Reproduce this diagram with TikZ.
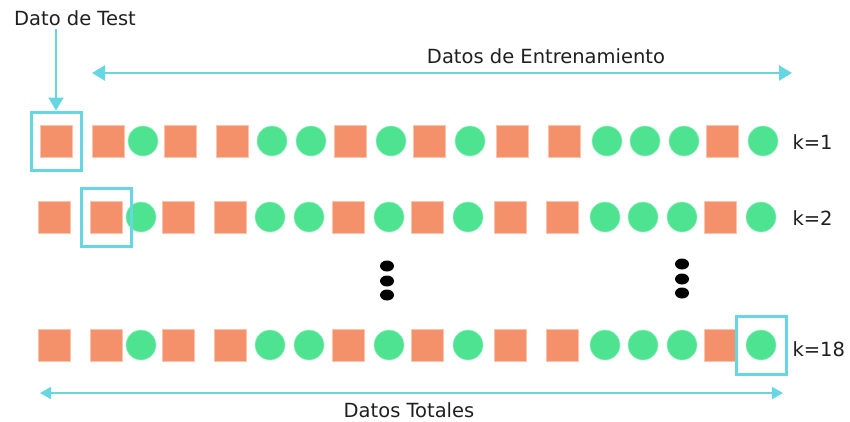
\documentclass[tikz,border=0pt]{standalone}
\usepackage{fontspec}
\setmainfont{DejaVu Sans}
\usetikzlibrary{arrows.meta,positioning,shapes.geometric}
\definecolor{naranja}{HTML}{F4916A}
\definecolor{verde}{HTML}{4DE391}
\definecolor{cian}{HTML}{66D6E3}

\begin{document}
\begin{tikzpicture}[
    x=1pt, y=-1pt,
    font=\fontsize{19.5}{23}\selectfont,
    text=black!88,
    >={Triangle[length=13pt,width=15pt]},
    dcuad/.style={fill=naranja, draw=naranja!55!white, line width=0.6pt, minimum size=32pt, inner sep=0pt},
    dcirc/.style={circle, fill=verde, draw=verde!55!white, line width=0.6pt, minimum size=30pt, inner sep=0pt},
    marco/.style={draw=cian, line width=3pt, minimum width=50pt, minimum height=58pt, inner sep=0pt},
    flecha/.style={draw=cian, fill=cian, line width=2.3pt},
    punto/.style={ellipse, fill=black, minimum width=14pt, minimum height=11pt, inner sep=0pt}
]
\useasboundingbox (0,0) rectangle (850,421);

% filas de datos
\foreach \fila/\y/\dx in {1/141/0, 2/217/-2, 3/345/-2} {
  \foreach \x/\t [count=\i] in {56/dcuad,108/dcuad,143/dcirc,180/dcuad,232/dcuad,272/dcirc,
      311/dcirc,350/dcuad,391/dcirc,429/dcuad,470/dcirc,512/dcuad,564/dcuad,607/dcirc,
      645/dcirc,684/dcirc,722/dcuad,763/dcirc} {
    \node[\t] (r\fila-\i) at (\x+\dx,\y) {};
  }
}

% dato de test en cada fila
\node[marco] (t1) at (r1-1) {};
\node[marco] (t2) at (r2-2) {};
\node[marco] (t3) at (r3-18) {};

\node[anchor=west] (k1) at (789,142) {k=1};
\node[anchor=west] (k2) at (789,218) {k=2};
\node[anchor=west] (k3) at (789,349) {k=18};

\node (dt) at (75,18) {Dato de Test};
\draw[flecha,->] (dt.south -| t1.north) -- (t1.north);

\coordinate (ent1) at (92,73);
\coordinate (ent2) at (792,73);
\draw[flecha,<->] (ent1) -- (ent2);
\node (dent) at (546,56) {Datos de Entrenamiento};

\coordinate (tot1) at (40,393);
\coordinate (tot2) at (783,393);
\draw[flecha,line width=1.8pt,{Triangle[length=11pt,width=12pt]}-{Triangle[length=11pt,width=12pt]}] (tot1) -- (tot2);
\node[inner sep=1pt] (dtot) at (409,410) {Datos Totales};

% puntos suspensivos
\foreach \j/\y in {1/266,2/281,3/295} {
  \node[punto] (pa\j) at (387,\y) {};
}
\foreach \j/\y in {1/264,2/279,3/293} {
  \node[punto] (pb\j) at (682,\y) {};
}
\end{tikzpicture}
\end{document}
